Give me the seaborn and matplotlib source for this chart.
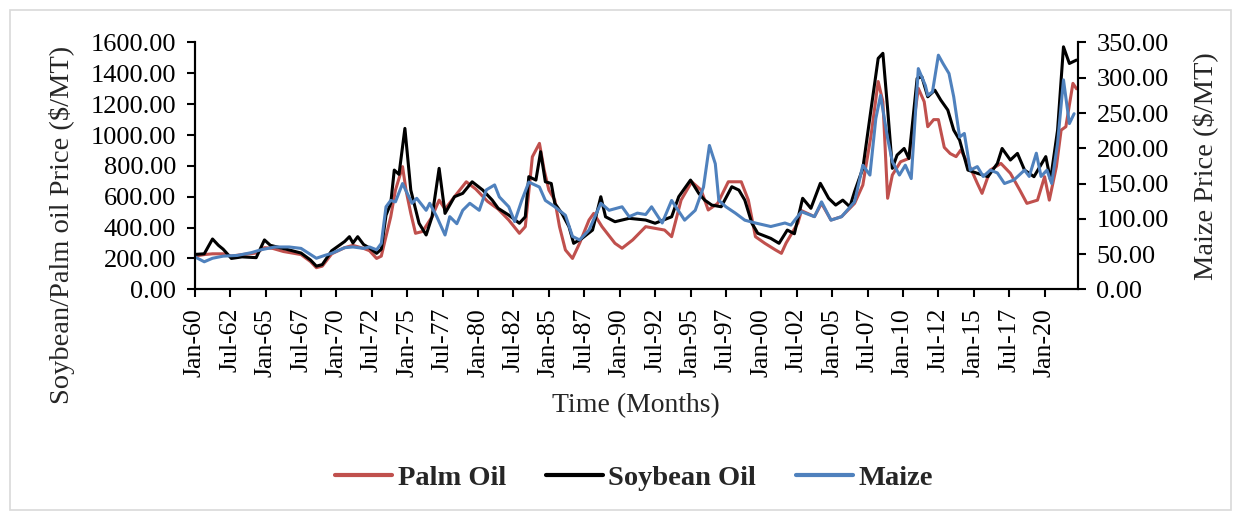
import matplotlib
matplotlib.use("Agg")
import pandas as pd
import seaborn as sns
import matplotlib.pyplot as plt
from matplotlib.patches import Rectangle
from matplotlib.lines import Line2D
from matplotlib.ticker import StrMethodFormatter

# Prices (left axis: oils, $/MT; right axis: maize, $/MT)
soy_months = ["1960-01", "1960-09", "1961-04", "1961-09", "1962-01", "1962-08", "1963-05", "1964-05",
              "1964-12", "1965-05", "1966-01", "1966-09", "1967-07", "1968-03", "1968-08", "1969-01",
              "1969-09", "1970-08", "1970-12", "1971-03", "1971-07", "1971-12", "1972-05", "1972-11",
              "1973-03", "1973-07", "1973-11", "1974-02", "1974-06", "1974-11", "1975-04", "1975-11",
              "1976-05", "1976-10", "1977-04", "1977-09", "1978-05", "1978-12", "1979-08", "1980-05",
              "1981-01", "1981-06", "1982-03", "1982-12", "1983-05", "1983-08", "1984-02", "1984-06",
              "1984-10", "1985-03", "1985-06", "1985-12", "1986-06", "1986-10", "1987-05", "1988-02",
              "1988-09", "1989-01", "1989-09", "1990-09", "1991-11", "1992-07", "1993-09", "1994-03",
              "1995-01", "1995-08", "1996-01", "1996-07", "1997-03", "1997-12", "1998-06", "1998-11",
              "1999-05", "1999-10", "2000-09", "2001-04", "2001-11", "2002-05", "2002-12", "2003-07",
              "2004-03", "2004-10", "2005-04", "2005-10", "2006-04", "2006-08", "2007-03", "2007-10",
              "2008-04", "2008-08", "2008-12", "2009-04", "2009-08", "2010-02", "2010-06", "2011-01",
              "2011-05", "2011-10", "2012-04", "2012-09", "2013-03", "2013-08", "2014-01", "2014-08",
              "2015-04", "2016-01", "2016-09", "2017-01", "2017-08", "2018-02", "2018-08", "2019-04",
              "2020-02", "2020-06", "2020-12", "2021-05", "2021-10", "2022-04"]
soy_price = [226, 230, 326, 285, 260, 200, 210, 205,
             320, 285, 270, 255, 235, 190, 150, 160,
             250, 310, 341, 300, 341, 290, 268, 233,
             260, 480, 557, 773, 745, 1043, 643, 428,
             352, 470, 784, 492, 600, 622, 697, 643,
             578, 525, 481, 428, 470, 730, 708, 892,
             697, 686, 557, 492, 406, 298, 330, 384,
             600, 470, 438, 460, 449, 428, 470, 600,
             708, 622, 578, 546, 535, 665, 643, 578,
             428, 363, 330, 298, 384, 360, 590, 525,
             687, 590, 546, 578, 535, 633, 784, 1170,
             1497, 1530, 1170, 784, 870, 913, 848, 1367,
             1378, 1248, 1291, 1227, 1162, 1032, 967, 773,
             752, 730, 816, 913, 838, 881, 773, 730,
             860, 708, 1032, 1572, 1464, 1486]

palm_months = ["1960-01", "1960-09", "1961-04", "1962-01", "1962-08", "1963-05", "1964-05", "1964-12",
               "1965-07", "1966-04", "1967-07", "1968-03", "1968-08", "1969-01", "1969-09", "1970-08",
               "1971-03", "1971-12", "1972-05", "1972-11", "1973-03", "1973-11", "1974-03", "1974-09",
               "1974-12", "1975-04", "1975-08", "1976-02", "1976-10", "1977-04", "1977-09", "1978-05",
               "1979-03", "1979-11", "1980-09", "1981-06", "1982-03", "1982-12", "1983-05", "1983-11",
               "1984-05", "1984-09", "1985-01", "1985-06", "1985-10", "1986-03", "1986-09", "1987-03",
               "1987-11", "1988-03", "1988-10", "1989-09", "1990-03", "1990-12", "1991-11", "1992-07",
               "1993-03", "1993-09", "1994-05", "1995-02", "1995-10", "1996-04", "1996-12", "1997-09",
               "1998-08", "1999-02", "1999-08", "2000-04", "2001-01", "2001-06", "2001-10", "2002-08",
               "2002-11", "2003-10", "2004-04", "2004-12", "2005-09", "2006-08", "2007-03", "2007-10",
               "2008-04", "2008-08", "2008-12", "2009-04", "2009-11", "2010-06", "2011-02", "2011-07",
               "2011-10", "2012-03", "2012-07", "2012-12", "2013-05", "2013-10", "2014-02", "2014-11",
               "2015-04", "2015-08", "2016-03", "2016-12", "2017-08", "2018-04", "2018-10", "2019-07",
               "2020-01", "2020-05", "2020-11", "2021-03", "2021-07", "2022-01", "2022-04"]
palm_price = [215, 225, 230, 230, 215, 225, 235, 270,
              265, 245, 225, 180, 140, 150, 230, 270,
              285, 265, 250, 200, 215, 470, 643, 795,
              640, 492, 363, 375, 470, 578, 520, 600,
              697, 650, 570, 520, 449, 363, 406, 859,
              946, 773, 643, 578, 406, 255, 200, 298,
              449, 492, 406, 298, 266, 320, 406, 395,
              384, 341, 578, 697, 643, 514, 557, 697,
              697, 578, 341, 298, 255, 233, 300, 430,
              510, 471, 557, 449, 471, 557, 676, 1000,
              1347, 1216, 590, 741, 827, 848, 1303, 1216,
              1054, 1100, 1100, 920, 880, 860, 903, 773,
              687, 622, 773, 816, 752, 643, 557, 578,
              730, 578, 795, 1032, 1054, 1335, 1300]

maize_months = ["1960-01", "1960-09", "1961-04", "1962-01", "1963-01", "1964-01", "1964-09", "1965-09",
                "1966-09", "1967-07", "1968-08", "1969-03", "1969-09", "1970-08", "1971-03", "1971-12",
                "1972-05", "1972-11", "1973-03", "1973-07", "1973-11", "1974-03", "1974-09", "1975-01",
                "1975-05", "1975-09", "1976-05", "1976-08", "1977-02", "1977-09", "1978-01", "1978-07",
                "1978-12", "1979-06", "1980-02", "1980-08", "1981-03", "1981-07", "1982-03", "1982-08",
                "1983-02", "1983-08", "1984-05", "1984-10", "1985-06", "1986-03", "1986-09", "1987-03",
                "1987-11", "1988-09", "1989-04", "1990-03", "1990-09", "1991-04", "1991-11", "1992-04",
                "1993-01", "1993-09", "1994-08", "1995-05", "1995-12", "1996-05", "1996-10", "1997-01",
                "1997-07", "1998-03", "1998-11", "1999-08", "2000-09", "2001-09", "2002-02", "2002-11",
                "2003-10", "2004-04", "2004-12", "2005-09", "2006-08", "2007-03", "2007-09", "2008-02",
                "2008-06", "2008-12", "2009-04", "2009-10", "2010-03", "2010-08", "2011-02", "2011-08",
                "2011-10", "2012-02", "2012-07", "2012-11", "2013-04", "2013-08", "2014-01", "2014-05",
                "2014-10", "2015-04", "2015-09", "2016-03", "2016-09", "2017-03", "2017-11", "2018-08",
                "2018-12", "2019-06", "2019-10", "2020-03", "2020-07", "2020-12", "2021-05", "2021-10",
                "2022-02"]
maize_price = [46, 39, 44, 47, 48, 52, 56, 60,
               60, 58, 44, 48, 51, 59, 60, 58,
               60, 56, 65, 117, 126, 124, 150, 136,
               122, 129, 112, 122, 103, 77, 103, 93,
               112, 122, 112, 141, 148, 131, 117, 96,
               126, 152, 145, 126, 117, 105, 75, 70,
               84, 122, 112, 117, 103, 108, 106, 117,
               94, 126, 98, 112, 145, 204, 178, 126,
               117, 108, 98, 94, 89, 94, 91, 110,
               103, 124, 98, 103, 124, 176, 162, 242,
               275, 214, 181, 162, 176, 157, 313, 289,
               275, 280, 332, 320, 306, 273, 216, 221,
               169, 174, 160, 169, 165, 150, 155, 169,
               160, 193, 160, 169, 150, 207, 297, 235,
               249]

tick_labels = ["Jan-60", "Jul-62", "Jan-65", "Jul-67", "Jan-70", "Jul-72", "Jan-75", "Jul-77",
               "Jan-80", "Jul-82", "Jan-85", "Jul-87", "Jan-90", "Jul-92", "Jan-95", "Jul-97",
               "Jan-00", "Jul-02", "Jan-05", "Jul-07", "Jan-10", "Jul-12", "Jan-15", "Jul-17",
               "Jan-20"]

RED = "#C0504D"
BLUE = "#4F81BD"


def to_index(months):
    # month count since Jan 1960
    return [(int(s[:4]) - 1960) * 12 + int(s[5:]) - 1 for s in months]


sns.set_style("ticks")
plt.rcParams["font.family"] = ["Liberation Serif", "DejaVu Serif"]

fig = plt.figure(figsize=(12.33, 5.12), dpi=100)
fig.patches.append(Rectangle((0.008, 0.004), 0.99, 0.976, transform=fig.transFigure,
                             fill=False, edgecolor="#d9d9d9", lw=1.2))
ax = fig.add_axes([0.158, 0.435, 0.716, 0.482])

palm_df = pd.DataFrame({"m": to_index(palm_months), "price": palm_price})
soy_df = pd.DataFrame({"m": to_index(soy_months), "price": soy_price})
maize_df = pd.DataFrame({"m": to_index(maize_months), "price": maize_price})

sns.lineplot(data=palm_df, x="m", y="price", ax=ax, color=RED, lw=2.2)
sns.lineplot(data=soy_df, x="m", y="price", ax=ax, color="black", lw=2.2)
ax2 = ax.twinx()
sns.lineplot(data=maize_df, x="m", y="price", ax=ax2, color=BLUE, lw=2.2)

ax.set_xlim(0, 748)
ax.set_ylim(0, 1600)
ax.set_yticks(range(0, 1601, 200))
ax.yaxis.set_major_formatter(StrMethodFormatter("{x:.2f}"))
ax2.set_ylim(0, 350)
ax2.set_yticks(range(0, 351, 50))
ax2.yaxis.set_major_formatter(StrMethodFormatter("{x:.2f}"))
ax.set_xticks(range(0, 721, 30))
ax.set_xticklabels(tick_labels, rotation=90)

for a in (ax, ax2):
    a.spines["top"].set_visible(False)
    for s in ("left", "right", "bottom"):
        a.spines[s].set_linewidth(1.5)
        a.spines[s].set_color("black")
    a.tick_params(direction="out", length=5.5, width=1.5, labelsize=19, pad=8, colors="black")
ax.tick_params(axis="x", labelsize=18.5)

ax.set_xlabel("Time (Months)", fontsize=20)
ax.set_ylabel("Soybean/Palm oil Price ($/MT)", fontsize=20.5)
ax2.set_ylabel("Maize Price ($/MT)", fontsize=20.5)
ax.xaxis.set_label_coords(0.5, -0.42)
ax.yaxis.set_label_coords(-0.136, 0.26)
ax2.yaxis.set_label_coords(1.13, 0.5)

handles = [Line2D([], [], color=RED, lw=3), Line2D([], [], color="black", lw=3),
           Line2D([], [], color=BLUE, lw=3)]
fig.legend(handles, ["Palm Oil", "Soybean Oil", "Maize"], loc="center",
           bbox_to_anchor=(634 / 1233, 1 - 478 / 512), ncol=3, frameon=False,
           prop={"weight": "bold", "size": 20.5}, handlelength=2.0, handletextpad=0.2,
           columnspacing=1.4)

fig.savefig("out.png", dpi=100)
